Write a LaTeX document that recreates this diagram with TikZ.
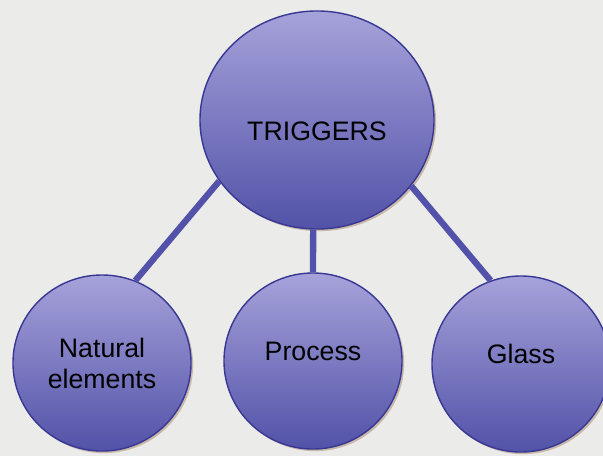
\documentclass[tikz,border=0pt]{standalone}
\usepackage{fontspec}
\setmainfont{Liberation Sans}
\usetikzlibrary{shapes.geometric,shadows}
\definecolor{paper}{RGB}{235,235,233}
\definecolor{bubbletop}{RGB}{166,162,218}
\definecolor{bubblebot}{RGB}{82,82,168}
\definecolor{rim}{RGB}{56,56,148}
\definecolor{stem}{RGB}{82,82,170}

\begin{document}
\begin{tikzpicture}[
    x=0.025cm,y=-0.025cm,
    every node/.style={ellipse,draw=rim,line width=1pt,top color=bubbletop,bottom color=bubblebot,
        align=center,font=\fontsize{19}{22}\selectfont,
        drop shadow={shadow xshift=1.5pt,shadow yshift=-1.5pt,fill=brown!70!black,opacity=0.35}},
    root/.style={minimum width=5.85cm,minimum height=5.45cm,text height=1.02cm,text depth=0cm},
    leaf/.style={minimum width=4.45cm,minimum height=4.4cm},
    lift/.style={text depth=0.5cm},
    link/.style={draw=stem,line width=4.5pt}
]
\fill[paper] (0,0) rectangle (603,456);
\useasboundingbox (0,0) rectangle (603,456);

\node[root] (trig) at (317,120) {TRIGGERS};
\node[leaf] (nat) at (102,363) {Natural\\elements};
\node[leaf,lift] (proc) at (313,361) {Process};
\node[leaf,lift] (glass) at (521,364) {Glass};

% stems between the bubbles
\path[link] (trig.268) -- (proc.north);
\path[link] (trig.212) -- (nat.68);
\path[link] (trig.325) -- (glass.110);
\end{tikzpicture}
\end{document}
